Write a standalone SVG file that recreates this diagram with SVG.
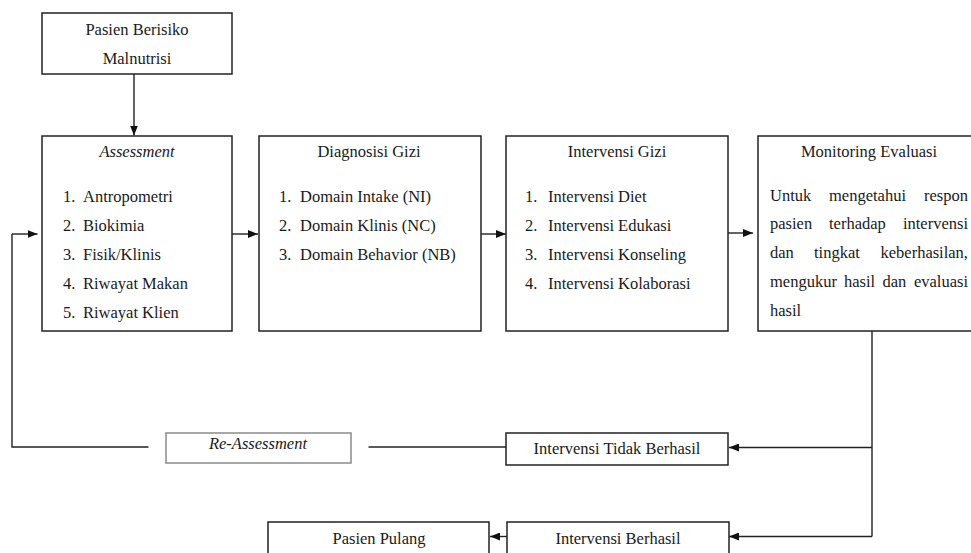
<svg xmlns="http://www.w3.org/2000/svg" width="971" height="553" viewBox="0 0 971 553">
<defs>
<marker id="ah" markerWidth="10" markerHeight="8" refX="10" refY="4" orient="auto" markerUnits="userSpaceOnUse">
<path d="M0,0 L10,4 L0,8 z" fill="#111"/>
</marker>
<style>
.box{fill:#fff;stroke:#222;stroke-width:1.5}
.gbox{fill:#fff;stroke:#8a8a8a;stroke-width:1.5}
.t{font-family:"Liberation Serif","Times New Roman",serif;font-size:16.5px;fill:#1a1a1a}
.c{text-anchor:middle}
.i{font-style:italic}
.e{text-anchor:end}
.ln{fill:none;stroke:#222;stroke-width:1.4}
.arr{fill:none;stroke:#222;stroke-width:1.4;marker-end:url(#ah)}
</style>
</defs>
<rect width="971" height="553" fill="#fff"/>
<g id="connectors">
<path class="arr" d="M134,74 V135.5"/>
<path class="arr" d="M232,234 H258"/>
<path class="arr" d="M481,234 H506"/>
<path class="arr" d="M728,233 H753"/>
<path class="ln" d="M872,331 V536.5"/>
<path class="arr" d="M872,447.5 H729"/>
<path class="arr" d="M872,536.5 H729"/>
<path class="arr" d="M507,536.5 H490"/>
<path class="ln" d="M506,447 H368.5"/>
<path class="ln" d="M148.5,447 H12 V234"/>
<path class="arr" d="M12,234 H37.5"/>
</g>
<g id="pasien-berisiko">
<rect class="box" x="42" y="13" width="190" height="61"/>
<text class="t c" x="137" y="35">Pasien Berisiko</text>
<text class="t c" x="137" y="64">Malnutrisi</text>
</g>
<g id="assessment">
<rect class="box" x="42" y="136" width="190" height="195"/>
<text class="t c i" x="137" y="157">Assessment</text>
<text class="t" x="63" y="201.5">1.</text><text class="t" x="83" y="201.5">Antropometri</text>
<text class="t" x="63" y="230.5">2.</text><text class="t" x="83" y="230.5">Biokimia</text>
<text class="t" x="63" y="259.8">3.</text><text class="t" x="83" y="259.8">Fisik/Klinis</text>
<text class="t" x="63" y="289">4.</text><text class="t" x="83" y="289">Riwayat Makan</text>
<text class="t" x="63" y="318">5.</text><text class="t" x="83" y="318">Riwayat Klien</text>
</g>
<g id="diagnosis">
<rect class="box" x="259" y="136" width="222" height="195"/>
<text class="t c" x="369" y="157">Diagnosisi Gizi</text>
<text class="t" x="279" y="201.5">1.</text><text class="t" x="300" y="201.5">Domain Intake (NI)</text>
<text class="t" x="279" y="230.5">2.</text><text class="t" x="300" y="230.5">Domain Klinis (NC)</text>
<text class="t" x="279" y="259.8">3.</text><text class="t" x="300" y="259.8">Domain Behavior (NB)</text>
</g>
<g id="intervensi">
<rect class="box" x="506" y="136" width="222" height="195"/>
<text class="t c" x="617" y="157">Intervensi Gizi</text>
<text class="t" x="525" y="201.5">1.</text><text class="t" x="548" y="201.5">Intervensi Diet</text>
<text class="t" x="525" y="230.5">2.</text><text class="t" x="548" y="230.5">Intervensi Edukasi</text>
<text class="t" x="525" y="259.8">3.</text><text class="t" x="548" y="259.8">Intervensi Konseling</text>
<text class="t" x="525" y="289">4.</text><text class="t" x="548" y="289">Intervensi Kolaborasi</text>
</g>
<g id="monitoring">
<rect class="box" x="758" y="136" width="220" height="195"/>
<text class="t c" x="869" y="157">Monitoring Evaluasi</text>
<text class="t" x="770" y="200.5">Untuk</text><text class="t" x="829" y="200.5">mengetahui</text><text class="t e" x="968" y="200.5">respon</text>
<text class="t" x="770" y="229.3">pasien</text><text class="t" x="829" y="229.3">terhadap</text><text class="t e" x="968" y="229.3">intervensi</text>
<text class="t" x="770" y="258.2">dan</text><text class="t" x="814" y="258.2">tingkat</text><text class="t e" x="968" y="258.2">keberhasilan,</text>
<text class="t" x="770" y="287">mengukur</text><text class="t" x="844" y="287">hasil</text><text class="t" x="882.5" y="287">dan</text><text class="t e" x="968" y="287">evaluasi</text>
<text class="t" x="770" y="315.5">hasil</text>
</g>
<g id="re-assessment">
<rect class="gbox" x="166" y="433" width="185" height="30"/>
<text class="t c i" x="258" y="448.5">Re-Assessment</text>
</g>
<g id="tidak-berhasil">
<rect class="box" x="506" y="433" width="222" height="32"/>
<text class="t c" x="617" y="454.3">Intervensi Tidak Berhasil</text>
</g>
<g id="berhasil">
<rect class="box" x="507" y="522" width="222" height="40"/>
<text class="t c" x="618" y="544">Intervensi Berhasil</text>
</g>
<g id="pasien-pulang">
<rect class="box" x="268" y="522" width="221" height="40"/>
<text class="t c" x="379" y="543.5">Pasien Pulang</text>
</g>
</svg>
